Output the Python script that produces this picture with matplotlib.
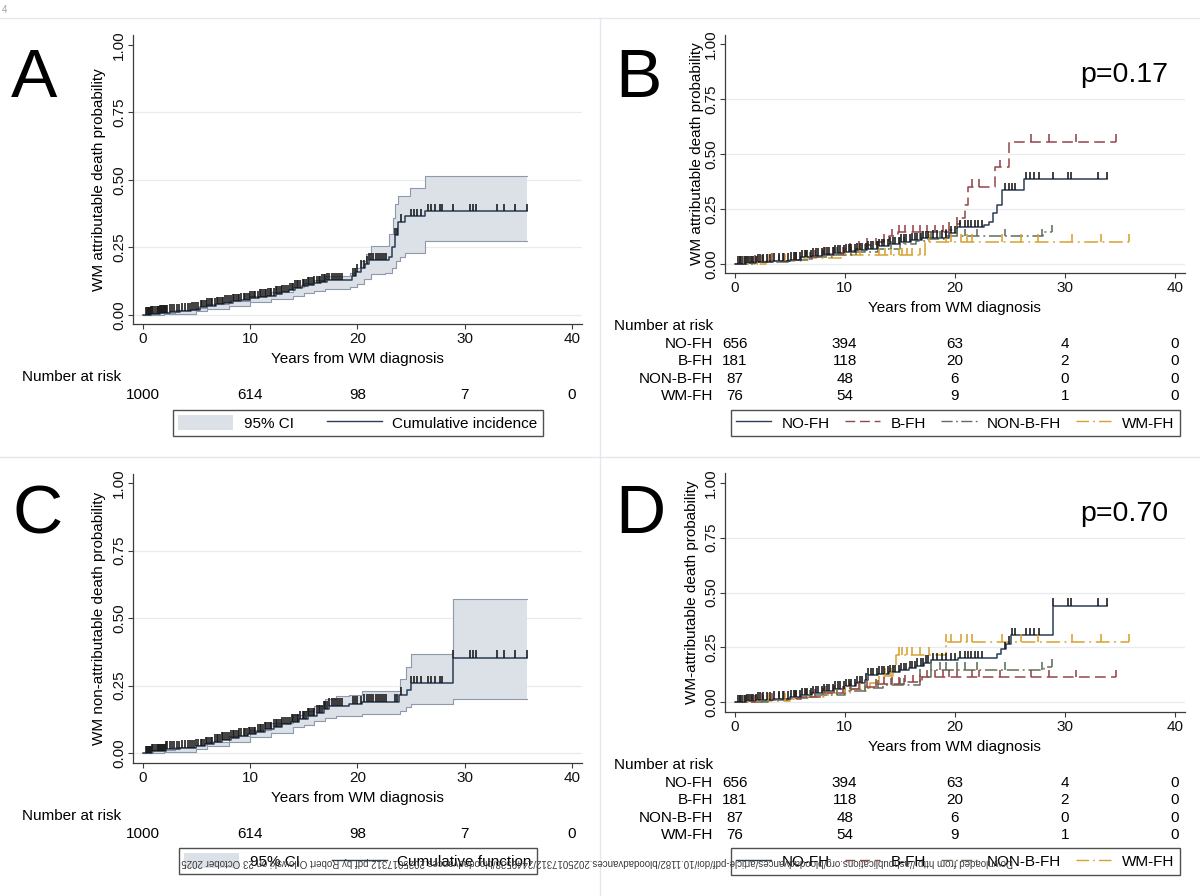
import numpy as np
import matplotlib
matplotlib.use("Agg")
import matplotlib.pyplot as plt
import matplotlib.transforms as mtransforms
from matplotlib.lines import Line2D
from matplotlib.patches import Patch

plt.rcParams['font.family'] = ['Liberation Sans', 'DejaVu Sans']

W, H = 1200, 896

# ---------------- data ----------------
year_ticks = [0, 10, 20, 30, 40]
prob_ticks = [0, 0.25, 0.5, 0.75, 1.0]
prob_labels = ['0.00', '0.25', '0.50', '0.75', '1.00']

risk_all = [1000, 614, 98, 7, 0]
groups = ['NO-FH', 'B-FH', 'NON-B-FH', 'WM-FH']
risk_nofh = [656, 394, 63, 4, 0]
risk_bfh = [181, 118, 20, 2, 0]
risk_nonbfh = [87, 48, 6, 0, 0]
risk_wmfh = [76, 54, 9, 1, 0]

# Panel A: WM attributable death, whole cohort (step knots)
a_t = [0, 0.8, 1.6, 2.5, 3.5, 4.5, 5.3, 6.0, 6.8, 7.6, 8.4, 9.2, 10.0, 10.8, 11.6,
       12.4, 13.0, 13.6, 14.2, 14.8, 15.4, 16.0, 16.6, 17.2, 19.5, 19.9, 20.3, 20.7,
       21.1, 23.0, 23.2, 23.5, 23.8, 24.4, 26.3, 35.8]
a_v = [0, .004, .008, .012, .016, .02, .028, .035, .04, .045, .05, .055, .062, .068, .072,
       .078, .085, .092, .1, .106, .112, .118, .123, .128, .145, .16, .175, .19,
       .203, .215, .25, .295, .345, .366, .385, .385]
a_up_t = [0, 1, 3, 5, 6, 8, 10, 12, 14, 15, 16, 17, 19.3, 19.8, 20.3, 20.8, 21.3, 22.6,
          23.0, 23.3, 23.5, 23.8, 24.9, 26.3, 35.8]
a_up_v = [0, .008, .018, .027, .04, .052, .072, .085, .105, .118, .13, .145, .155, .175,
          .2, .225, .255, .255, .3, .36, .41, .44, .47, .515, .515]
a_lo_t = [0, 2, 5, 6, 8, 10, 12, 14, 15, 16, 17, 19.3, 20.0, 20.6, 21.3, 22.6, 23.2,
          23.6, 24.0, 24.4, 26.3, 35.8]
a_lo_v = [0, .004, .013, .022, .033, .048, .058, .072, .08, .088, .096, .105, .115, .135,
          .15, .155, .175, .2, .215, .228, .275, .275]

# Panel C: WM non-attributable death, whole cohort
c_t = [0, 0.9, 2.2, 3.5, 5.0, 5.8, 6.6, 7.4, 8.2, 9.0, 9.8, 10.6, 11.4, 12.2, 13.0,
       13.8, 14.6, 15.4, 16.2, 16.9, 17.4, 19.2, 20.4, 23.9, 24.6, 25.0, 28.9, 35.8]
c_v = [0, .006, .015, .02, .025, .033, .042, .05, .057, .063, .07, .078, .088, .097, .106,
       .116, .127, .138, .15, .163, .175, .182, .19, .215, .235, .258, .352, .352]
c_up_t = [0, 1, 3, 5, 6, 8, 10, 12, 14, 15, 16, 17, 18, 19.2, 20.4, 24.0, 24.5, 25.0,
          28.9, 35.8]
c_up_v = [0, .01, .022, .03, .04, .062, .085, .11, .14, .155, .175, .2, .21, .215, .228,
          .275, .32, .365, .57, .57]
c_lo_t = [0, 2, 5, 6, 8, 10, 12, 14, 15, 16, 17, 18, 20.4, 24.0, 24.5, 25.0, 28.9, 35.8]
c_lo_v = [0, .004, .015, .025, .042, .058, .075, .095, .105, .118, .13, .138, .145, .155,
          .17, .18, .2, .2]

# Panel B: WM attributable death by family history
b_nofh_t = [0, 1, 2, 3.5, 5, 6, 7, 8, 9, 10, 11, 12, 13, 14, 15, 16, 17, 17.8, 19.5,
            20.2, 22.7, 23.1, 23.5, 23.8, 24.3, 26.3, 33.8]
b_nofh_v = [0, .004, .01, .015, .02, .03, .037, .043, .05, .056, .063, .07, .08, .09, .1,
            .108, .116, .12, .14, .167, .178, .19, .23, .27, .335, .385, .385]
b_bfh_t = [0, 1.5, 3, 5, 6, 8, 10, 11, 12, 13, 14, 14.8, 19.5, 20.2, 20.5, 20.9, 21.2,
           23.7, 24.9, 34.7]
b_bfh_v = [0, .008, .014, .02, .03, .045, .06, .07, .085, .1, .125, .145, .155, .18, .21,
           .27, .35, .44, .555, .555]
b_nonbfh_t = [0, 2, 5, 7, 9, 11, 13, 15, 16.5, 17.5, 19.0, 28.0, 28.8]
b_nonbfh_v = [0, .008, .02, .03, .042, .055, .07, .09, .105, .115, .127, .145, .145]
b_wmfh_t = [0, 2.8, 6.0, 9.7, 17.3, 35.8]
b_wmfh_v = [0, .013, .026, .04, .1, .1]

# Panel D: WM-attributable death by family history (second model)
d_nofh_t = [0, 1, 2, 3.5, 5, 6, 7, 8, 9, 10, 11, 11.8, 12.1, 13, 14, 15, 15.8, 16.5,
            17.2, 17.8, 20.3, 23.8, 24.2, 24.7, 25.1, 28.9, 33.8]
d_nofh_v = [0, .004, .01, .015, .022, .03, .04, .05, .06, .072, .085, .1, .122, .128,
            .135, .145, .155, .165, .18, .19, .2, .22, .24, .265, .305, .44, .44]
d_bfh_t = [0, 2, 4, 6, 8, 10, 11.5, 13, 15.5, 17.0, 34.7]
d_bfh_v = [0, .008, .014, .025, .04, .06, .07, .08, .09, .112, .112]
d_nonbfh_t = [0, 3, 5, 7, 10, 12, 13.5, 16.8, 17.8, 28.1, 28.8]
d_nonbfh_v = [0, .01, .02, .03, .05, .065, .077, .115, .147, .16, .16]
d_wmfh_t = [0, 2.5, 5, 6.5, 8.5, 10.5, 12.3, 13.6, 14.4, 14.7, 19.2, 35.8]
d_wmfh_v = [0, .005, .012, .022, .04, .058, .085, .12, .16, .215, .276, .276]

# censoring times (years)
cens_all = [0.3, 0.4, 0.5, 0.6, 0.7, 0.8, 0.9, 1.0, 1.1, 1.3, 1.4, 1.5, 1.6, 1.7, 1.8, 1.9,
            2.0, 2.1, 2.2, 2.3, 2.5, 2.7, 2.9, 3.2, 3.4, 3.7, 3.9, 4.2, 4.4, 4.6, 4.8, 5.0,
            5.2, 5.4, 5.5, 5.7, 5.9, 6.0, 6.2, 6.4, 6.5, 6.7, 6.9, 7.0, 7.2, 7.4, 7.5, 7.7,
            7.9, 8.0, 8.2, 8.4, 8.5, 8.7, 8.9, 9.0, 9.2, 9.4, 9.5, 9.7, 9.9, 10.0, 10.2,
            10.4, 10.5, 10.7, 10.9, 11.0, 11.2, 11.4, 11.5, 11.7, 11.9, 12.0, 12.2, 12.4,
            12.5, 12.7, 12.9, 13.0, 13.2, 13.4, 13.5, 13.7, 13.9, 14.0, 14.2, 14.4, 14.5,
            14.7, 14.9, 15.0, 15.2, 15.4, 15.5, 15.7, 15.9, 16.0, 16.2, 16.4, 16.5, 16.7,
            16.9, 17.0, 17.2, 17.4, 17.6, 17.8, 18.0, 18.2, 18.4, 18.6, 19.6, 19.8, 20.0,
            20.3, 20.6, 20.9, 21.1, 21.3, 21.5, 21.7, 21.9, 22.1, 22.3, 22.5, 22.7, 23.5,
            23.7, 24.1, 25.0, 25.3, 25.6, 25.9, 26.6, 26.9, 27.2, 27.7, 27.9, 28.9, 30.5,
            30.8, 31.1, 33.0, 33.7, 34.7, 35.8]
cens_nofh = [0.3, 0.5, 0.7, 0.9, 1.1, 1.3, 1.5, 1.7, 1.9, 2.1, 2.3, 2.6, 2.9, 3.2, 3.6, 4.0,
             4.4, 4.8, 5.1, 5.4, 5.6, 5.9, 6.1, 6.4, 6.6, 6.9, 7.1, 7.4, 7.6, 7.9, 8.1, 8.4,
             8.6, 8.9, 9.1, 9.4, 9.6, 9.9, 10.1, 10.4, 10.6, 10.9, 11.1, 11.4, 11.6, 11.9,
             12.1, 12.4, 12.6, 12.9, 13.1, 13.4, 13.6, 13.9, 14.1, 14.4, 14.6, 14.9, 15.1,
             15.4, 15.6, 15.9, 16.1, 16.4, 16.6, 16.9, 17.1, 17.4, 17.6, 18.0, 18.4, 18.8,
             19.2, 19.7, 20.0, 20.5, 20.9, 21.2, 21.5, 21.8, 22.1, 22.5, 24.6, 24.9, 25.2,
             25.5, 26.5, 26.8, 27.2, 27.7, 28.9, 30.3, 30.6, 33.0, 33.8]
cens_bfh = [0.5, 1.0, 1.8, 2.5, 3.4, 4.5, 5.6, 6.5, 7.3, 8.2, 9.0, 9.8, 10.5, 11.3, 12.0,
            12.8, 13.6, 14.3, 14.9, 15.5, 16.2, 16.8, 17.5, 18.2, 18.9, 19.5, 20.2, 21.6,
            22.2, 24.1, 26.9, 28.6, 31.0, 34.7]
cens_nonbfh = [0.8, 1.6, 2.6, 4.0, 5.5, 6.8, 8.0, 9.3, 10.6, 11.8, 13.0, 14.2, 15.0, 15.4,
               16.8, 17.8, 18.7, 19.2, 20.2, 20.9, 22.0, 24.6, 27.9, 28.8]
cens_wmfh = [0.5, 1.2, 2.0, 3.0, 4.6, 6.5, 8.0, 10.0, 11.4, 13.1, 13.7, 14.2, 14.9, 15.2,
             15.7, 16.1, 16.8, 17.7, 19.2, 19.7, 20.6, 21.1, 21.6, 24.3, 26.0, 27.6, 30.7,
             33.3, 35.8]

# ---------------- styles ----------------
col_main = '#2a3e56'
col_tick = '#161616'
col_bfh = '#93454a'
col_nonbfh = '#5f6d57'
col_wmfh = '#d9a030'
ci_fill = '#dce0e7'
ci_edge = '#8e9aab'
axis_col = '#3c3c3c'
grid_col = '#e9ecef'
ls_nofh = '-'
ls_bfh = (0, (7, 3.5))
ls_nonbfh = (0, (8, 2.5, 1.2, 2.5))
ls_wmfh = (0, (9, 3, 1.2, 3))
FS = 11

fig = plt.figure(figsize=(W / 100, H / 100), dpi=100)
fig.patch.set_facecolor('white')


def fx(x):
    return x / W


def fy(y):
    return 1 - y / H


def step_xy(t, v):
    t = np.asarray(t, float)
    v = np.asarray(v, float)
    return np.repeat(t, 2)[1:], np.repeat(v, 2)[:-1]


def make_axes(left, top, right, bottom, zx, ppy, zy, ppu):
    ax = fig.add_axes([fx(left), fy(bottom), (right - left) / W, (bottom - top) / H])
    ax.set_xlim((left - zx) / ppy, (right - zx) / ppy)
    ax.set_ylim((zy - bottom) / ppu, (zy - top) / ppu)
    for s in ['top', 'right']:
        ax.spines[s].set_visible(False)
    for s in ['left', 'bottom']:
        ax.spines[s].set_color(axis_col)
        ax.spines[s].set_linewidth(0.9)
    ax.set_xticks(year_ticks)
    ax.set_yticks(prob_ticks)
    ax.set_yticklabels(prob_labels, rotation=90, va='center')
    ax.tick_params(direction='out', length=3.6, width=0.8, color=axis_col,
                   labelsize=FS, labelcolor='#111111')
    ax.tick_params(axis='x', pad=2.3)
    ax.tick_params(axis='y', pad=1.5)
    for p in prob_ticks[:-1]:
        ax.axhline(p, color=grid_col, lw=0.9, zorder=0)
    ax.tick_hgt = 7.5 / ppu
    ax.spine_px = bottom
    return ax


def draw_curve(ax, t, v, color, ls, cens, tick_color):
    ax.step(t, v, where='post', color=color, lw=1.1, ls=ls, zorder=3)
    idx = np.searchsorted(np.asarray(t), np.asarray(cens), side='right') - 1
    cy = np.asarray(v)[idx]
    ax.vlines(cens, cy, cy + ax.tick_hgt, color=tick_color, lw=1.15, zorder=4)


def draw_ci(ax, ut, uv, lt, lv):
    ux, uy = step_xy(ut, uv)
    lx, ly = step_xy(lt, lv)
    ax.fill(np.concatenate([ux, lx[::-1]]), np.concatenate([uy, ly[::-1]]),
            color=ci_fill, lw=0, zorder=1)
    ax.plot(ux, uy, color=ci_edge, lw=0.8, zorder=2)
    ax.plot(lx, ly, color=ci_edge, lw=0.8, zorder=2)


def bottom_texts(ax, nar_left, risk_rows, row_labels, label_right):
    sp = ax.spine_px
    tr = mtransforms.blended_transform_factory(ax.transData, fig.transFigure)
    ax.text(20, fy(sp + 39), 'Years from WM diagnosis', transform=tr,
            ha='center', va='baseline', fontsize=FS)
    fig.text(fx(nar_left), fy(sp + 57), 'Number at risk', ha='left',
             va='baseline', fontsize=FS)
    for i, row in enumerate(risk_rows):
        base = sp + 75 + 17.3 * i
        if row_labels is not None:
            fig.text(fx(label_right), fy(base), row_labels[i], ha='right',
                     va='baseline', fontsize=FS)
        for yr, n in zip(year_ticks, row):
            ax.text(yr, fy(base), str(n), transform=tr, ha='center',
                    va='baseline', fontsize=FS)


def legend_box(handles, labels, x0, y0, x1, y1, hl):
    leg = fig.legend(handles, labels, loc='center',
                     bbox_to_anchor=(fx(x0), fy(y1), (x1 - x0) / W, (y1 - y0) / H),
                     mode='expand', ncol=len(labels), fontsize=FS, frameon=True,
                     fancybox=False, edgecolor='#505050', framealpha=1,
                     borderpad=0.35, borderaxespad=0, handlelength=hl,
                     handleheight=1.1, handletextpad=0.7, columnspacing=1.0)
    leg.get_frame().set_linewidth(1.0)
    return leg


# ---------------- panel A ----------------
axA = make_axes(133, 35, 582, 324, 142.7, 10.73, 315, 270)
draw_ci(axA, a_up_t, a_up_v, a_lo_t, a_lo_v)
draw_curve(axA, a_t, a_v, col_main, '-', cens_all, col_tick)
bottom_texts(axA, 22, [risk_all], None, None)
fig.text(fx(99), fy(179.5), 'WM attributable death probability', rotation=90,
         ha='center', va='center', fontsize=FS)
legend_box([Patch(facecolor=ci_fill, edgecolor='none'),
            Line2D([], [], color=col_main, lw=1.0)],
           ['95% CI', 'Cumulative incidence'], 173, 409, 543, 437, 3.6)

# ---------------- panel C ----------------
axC = make_axes(133, 474, 582, 763, 142.7, 10.73, 753, 270)
draw_ci(axC, c_up_t, c_up_v, c_lo_t, c_lo_v)
draw_curve(axC, c_t, c_v, col_main, '-', cens_all, col_tick)
bottom_texts(axC, 22, [risk_all], None, None)
fig.text(fx(99), fy(618.5), 'WM non-attributable death probability', rotation=90,
         ha='center', va='center', fontsize=FS)
legend_box([Patch(facecolor=ci_fill, edgecolor='none'),
            Line2D([], [], color=col_main, lw=1.0)],
           ['95% CI', 'Cumulative function'], 179, 847, 537, 875, 3.6)

# ---------------- panel B ----------------
group_handles = [Line2D([], [], color=col_main, lw=1.0, ls=ls_nofh),
                 Line2D([], [], color=col_bfh, lw=1.0, ls=ls_bfh),
                 Line2D([], [], color=col_nonbfh, lw=1.0, ls=ls_nonbfh),
                 Line2D([], [], color=col_wmfh, lw=1.0, ls=ls_wmfh)]
risk_rows = [risk_nofh, risk_bfh, risk_nonbfh, risk_wmfh]

axB = make_axes(725, 35, 1185, 273, 734.7, 11.0, 264, 220)
draw_curve(axB, b_wmfh_t, b_wmfh_v, col_wmfh, ls_wmfh, cens_wmfh, col_wmfh)
draw_curve(axB, b_nonbfh_t, b_nonbfh_v, col_nonbfh, ls_nonbfh, cens_nonbfh, col_nonbfh)
draw_curve(axB, b_bfh_t, b_bfh_v, col_bfh, ls_bfh, cens_bfh, col_bfh)
draw_curve(axB, b_nofh_t, b_nofh_v, col_main, ls_nofh, cens_nofh, col_tick)
bottom_texts(axB, 614, risk_rows, groups, 713)
fig.text(fx(697), fy(154), 'WM attributable death probability', rotation=90,
         ha='center', va='center', fontsize=FS)
fig.text(fx(1080), fy(82), 'p=0.17', ha='left', va='baseline', fontsize=20.5)
legend_box(group_handles, groups, 731, 409, 1180, 437, 2.3)

# ---------------- panel D ----------------
axD = make_axes(725, 473, 1185, 712, 734.7, 11.0, 702, 219)
draw_curve(axD, d_wmfh_t, d_wmfh_v, col_wmfh, ls_wmfh, cens_wmfh, col_wmfh)
draw_curve(axD, d_nonbfh_t, d_nonbfh_v, col_nonbfh, ls_nonbfh, cens_nonbfh, col_nonbfh)
draw_curve(axD, d_bfh_t, d_bfh_v, col_bfh, ls_bfh, cens_bfh, col_bfh)
draw_curve(axD, d_nofh_t, d_nofh_v, col_main, ls_nofh, cens_nofh, col_tick)
bottom_texts(axD, 614, risk_rows, groups, 713)
fig.text(fx(692), fy(592.5), 'WM-attributable death probability', rotation=90,
         ha='center', va='center', fontsize=FS)
fig.text(fx(1080), fy(521), 'p=0.70', ha='left', va='baseline', fontsize=20.5)
legend_box(group_handles, groups, 731, 848, 1180, 875, 2.3)

# ---------------- panel letters, frame lines, page furniture ----------------
for letter, x, y in [('A', 11, 97), ('B', 615, 97), ('C', 12, 533), ('D', 615, 533)]:
    fig.text(fx(x), fy(y), letter, ha='left', va='baseline', fontsize=50, color='black')

sep = '#e4e7ec'
fig.add_artist(Line2D([0, 1], [fy(18), fy(18)], color=sep, lw=1.0))
fig.add_artist(Line2D([0, 1], [fy(457), fy(457)], color=sep, lw=1.0))
fig.add_artist(Line2D([fx(600), fx(600)], [fy(18), 0], color=sep, lw=1.0))
fig.text(fx(2), fy(13), '4', fontsize=7, color='#a0a0a0')

# upside-down download stamp that runs across the two lower legends
wm_text = ('Downloaded from http://ashpublications.org/bloodadvances/article-pdf/doi/'
           '10.1182/bloodadvances.2025017312/2449538/bloodadvances.2025017312.pdf '
           'by Robert Orlowski on 23 October 2025')
wm = fig.text(fx(597), fy(862), wm_text, rotation=180, ha='center', va='center',
              fontsize=7, color='#3a3a3a', zorder=10)
fig.canvas.draw()
wpx = wm.get_window_extent().width
wm.set_fontsize(7 * 835 / wpx)

fig.savefig('out.png', dpi=100, facecolor='white')
